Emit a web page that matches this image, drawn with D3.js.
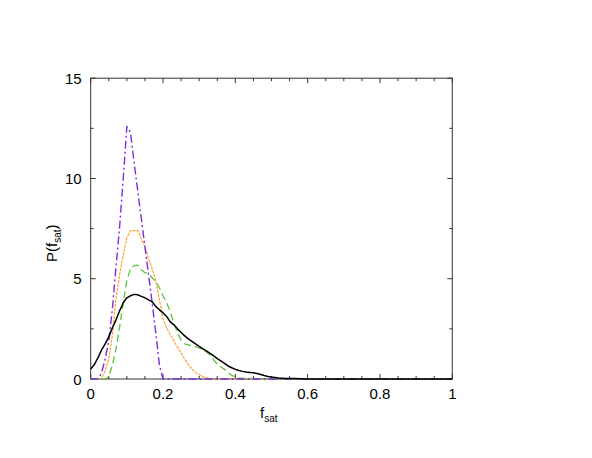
<!DOCTYPE html>
<html><head><meta charset="utf-8">
<script src="https://cdn.jsdelivr.net/npm/d3@7"></script>
<style>body{margin:0;background:#fff}svg{display:block}text{font-family:"Liberation Sans",Arial,sans-serif}</style>
</head><body>
<svg id="c" width="592" height="458"></svg>
<script>
const xTicks = [0, 0.2, 0.4, 0.6, 0.8, 1];
const yTicks = [0, 5, 10, 15];

const blackX = [0,0.01,0.02,0.03,0.04,0.05,0.06,0.07,0.08,0.09,0.10,0.11,0.12,0.13,0.14,0.15,0.16,0.17,0.18,0.19,0.20,0.21,0.22,0.23,0.24,0.25,0.26,0.27,0.28,0.29,0.30,0.31,0.32,0.33,0.34,0.35,0.36,0.37,0.38,0.39,0.40,0.41,0.42,0.43,0.44,0.45,0.46,0.47,0.48,0.49,0.50,0.52,0.54,0.56,0.58,0.60,0.8,1.0];
const blackY = [0.5,0.72,1.05,1.45,1.75,2.1,2.55,2.95,3.4,3.8,4.05,4.15,4.22,4.2,4.12,4.05,3.95,3.85,3.62,3.45,3.3,3.12,2.85,2.7,2.5,2.32,2.15,2.0,1.88,1.75,1.63,1.5,1.4,1.28,1.15,1.02,0.9,0.78,0.65,0.56,0.48,0.42,0.38,0.35,0.33,0.31,0.27,0.22,0.17,0.13,0.1,0.05,0.03,0.02,0.01,0,0,0];

const purpleX = [0,0.02,0.03,0.04,0.05,0.06,0.07,0.08,0.09,0.1,0.11,0.12,0.13,0.14,0.15,0.16,0.17,0.18,0.19,0.2,0.25,1.0];
const purpleY = [0,0,0.3,1.0,1.9,3.5,5.6,7.6,10.0,12.6,12.3,10.8,9.4,8.0,6.6,5.2,3.8,2.3,0.7,0,0,0];

const orangeX = [0,0.02,0.03,0.04,0.05,0.06,0.07,0.08,0.09,0.10,0.11,0.12,0.13,0.14,0.15,0.16,0.17,0.18,0.19,0.20,0.21,0.22,0.23,0.24,0.25,0.26,0.27,0.28,0.29,0.30,0.31,0.32,0.33,0.34,0.5,1.0];
const orangeY = [0,0,0.05,0.4,1.0,2.2,4.05,5.2,6.2,7.05,7.4,7.4,7.4,7.0,6.6,6.0,5.5,4.9,3.95,3.0,2.55,2.22,1.9,1.58,1.3,1.0,0.72,0.5,0.32,0.22,0.12,0.07,0.03,0,0,0];

const greenX = [0,0.04,0.05,0.06,0.07,0.08,0.09,0.10,0.11,0.12,0.13,0.14,0.15,0.16,0.17,0.18,0.19,0.20,0.21,0.22,0.23,0.24,0.25,0.26,0.27,0.28,0.29,0.30,0.31,0.32,0.33,0.34,0.35,0.36,0.37,0.38,0.39,0.40,0.41,0.42,0.44,0.46,0.5,1.0];
const greenY = [0,0,0.1,0.7,1.5,2.6,3.8,4.9,5.5,5.65,5.68,5.45,5.3,5.25,5.05,4.85,4.55,4.15,3.8,3.35,2.8,2.3,1.95,1.75,1.7,1.65,1.62,1.55,1.45,1.35,1.2,0.95,0.75,0.6,0.48,0.32,0.18,0.1,0.06,0.04,0.03,0.02,0,0];

const svg = d3.select("#c");
const L = 90.7, R = 452.3, T = 78.2, B = 379;
const x = d3.scaleLinear().domain([0, 1]).range([L, R]);
const y = d3.scaleLinear().domain([0, 15]).range([B, T]);

const axisCol = "#333";
// Frame
svg.append("rect").attr("x", L).attr("y", T).attr("width", R - L).attr("height", B - T)
  .attr("fill", "none").attr("stroke", axisCol).attr("stroke-width", 1);

// Ticks
const xMinor = d3.range(0, 1.0001, 0.05);
const yMinor = d3.range(0, 15.0001, 2.5);
const tg = svg.append("g").attr("stroke", axisCol).attr("stroke-width", 1);
xMinor.forEach(v => {
  const major = Math.abs(v * 5 - Math.round(v * 5)) < 1e-6;
  const len = major ? 5 : 3;
  tg.append("line").attr("x1", x(v)).attr("x2", x(v)).attr("y1", B).attr("y2", B - len);
  tg.append("line").attr("x1", x(v)).attr("x2", x(v)).attr("y1", T).attr("y2", T + len);
});
yMinor.forEach(v => {
  const major = Math.abs(v / 5 - Math.round(v / 5)) < 1e-6;
  const len = major ? 5 : 3;
  tg.append("line").attr("x1", L).attr("x2", L + len).attr("y1", y(v)).attr("y2", y(v));
  tg.append("line").attr("x1", R).attr("x2", R - len).attr("y1", y(v)).attr("y2", y(v));
});

// Tick labels
svg.append("g").selectAll("text").data(xTicks).join("text")
  .attr("x", d => x(d)).attr("y", B + 20).attr("text-anchor", "middle")
  .attr("font-size", 15).attr("fill", "#000").text(d => d3.format("")(d));
svg.append("g").selectAll("text").data(yTicks).join("text")
  .attr("x", L - 9).attr("y", d => y(d) + 5.5).attr("text-anchor", "end")
  .attr("font-size", 15).attr("fill", "#000").text(d => d);

// Axis titles
const xt = svg.append("text").attr("x", 260).attr("y", 418).attr("font-size", 15).attr("fill", "#000");
xt.append("tspan").text("f");
xt.append("tspan").attr("font-size", 10).attr("dy", 4).text("sat");

const yt = svg.append("text").attr("transform", "translate(57,262) rotate(-90)")
  .attr("font-size", 15).attr("fill", "#000");
yt.append("tspan").text("P(f");
yt.append("tspan").attr("font-size", 10).attr("dy", 4).text("sat");
yt.append("tspan").attr("dy", -4).text(")");

// Curves
const line = d3.line().x(d => x(d[0])).y(d => y(d[1]));
const plot = svg.append("g");
function draw(xs, ys, color, width, dash) {
  plot.append("path").datum(xs.map((v, i) => [v, ys[i]]))
    .attr("d", line).attr("fill", "none").attr("stroke", color)
    .attr("stroke-width", width).attr("stroke-dasharray", dash)
    .attr("stroke-linejoin", "round");
}
draw(orangeX, orangeY, "#ff9f3a", 1.2, "3,1");
draw(greenX, greenY, "#5fc23d", 1.3, "7,4");
draw(purpleX, purpleY, "#7a2fdc", 1.4, "8,3,2,3");
draw(blackX, blackY, "#000", 1.5, null);
</script>
</body></html>
